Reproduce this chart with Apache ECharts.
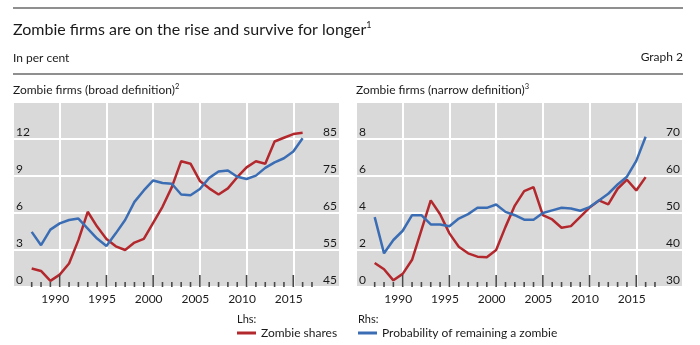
<!DOCTYPE html>
<html>
<head>
<meta charset="utf-8">
<script src="https://cdn.jsdelivr.net/npm/echarts@6/dist/echarts.min.js"></script>
<style>
html,body{margin:0;padding:0;background:#fff;}
#c{width:700px;height:345px;}
</style>
</head>
<body>
<div id="c"></div>
<script>
// ---- data ----
const years = [1987,1988,1989,1990,1991,1992,1993,1994,1995,1996,1997,1998,1999,2000,2001,2002,2003,2004,2005,2006,2007,2008,2009,2010,2011,2012,2013,2014,2015,2016];
// broad definition
const broadShares = [1.5,1.3,0.5,1.0,1.9,3.8,6.1,4.9,3.9,3.3,3.0,3.6,3.9,5.2,6.5,8.1,10.2,10.0,8.6,8.0,7.5,8.0,8.9,9.7,10.2,10.0,11.8,12.1,12.4,12.5];
const broadProb = [59.9,56.3,60.5,62.2,63.1,63.5,60.8,58.1,56.1,59.5,63.1,68.0,71.1,73.8,73.1,72.9,70.0,69.8,71.5,74.5,76.2,76.5,74.8,74.2,75.1,77.2,78.7,79.8,81.6,85.2];
// narrow definition
const narrowShares = [1.3,0.96,0.36,0.71,1.47,3.07,4.68,3.93,2.9,2.18,1.82,1.64,1.61,2.0,3.25,4.4,5.18,5.4,3.88,3.65,3.2,3.29,3.79,4.29,4.68,4.47,5.31,5.8,5.22,5.94];
const narrowProb = [48.9,39.1,42.7,45.2,49.4,49.4,46.9,46.9,46.4,48.5,49.7,51.4,51.4,52.3,50.3,49.4,48.2,48.2,50.0,50.7,51.4,51.2,50.6,51.6,53.4,55.2,57.7,59.8,64.1,70.6];
// axis tick positions (years with a tick mark)
const tickYears = [1987,1988,1989,1990,1991,1992,1993,1994,1995,1996,1997,1998,1999,2000,2001,2002,2003,2004,2005,2006,2007,2008,2009,2010,2011,2012,2013,2014,2015,2016,2017];
// axis ranges
const xRange = [1985, 2020];
const broadLhs = {min:0, max:15, interval:3};
const broadRhs = {min:45, max:95, interval:10};
const narrowLhs = {min:0, max:10, interval:2};
const narrowRhs = {min:30, max:80, interval:10};

const RED = '#b3282d', BLUE = '#3b6db4', BG = '#d9d9d9', TXT = '#1a1a1a';
const FONT = 'Lato';

const chart = echarts.init(document.getElementById('c'), null, {renderer:'canvas'});
const pair = (arr) => years.map((y,i)=>[y, arr[i]]);

const grids = [
  {left:13, right:360, top:102, height:185, show:true, backgroundColor:BG, borderWidth:0},
  {left:356, right:17, top:102, height:185, show:true, backgroundColor:BG, borderWidth:0}
];

function xAxis(gi){
  return {
    type:'value', gridIndex:gi, min:xRange[0], max:xRange[1], interval:5,
    axisLine:{show:false}, axisTick:{show:false},
    splitLine:{show:true, lineStyle:{color:'#fff', width:2}},
    axisLabel:{
      color:TXT, fontFamily:FONT, fontSize:12, margin:6, padding:[0,9,0,0],
      showMinLabel:false, showMaxLabel:false,
      formatter: (v)=>String(v)
    }
  };
}
function yAxis(gi, r, pos, split){
  return {
    type:'value', gridIndex:gi, position:pos, min:r.min, max:r.max, interval:r.interval,
    axisLine:{show:false}, axisTick:{show:false},
    splitLine:{show:split, lineStyle:{color:'#fff', width:2}},
    axisLabel:{
      inside:true, color:TXT, fontFamily:FONT, fontSize:12, margin:3,
      verticalAlign:'bottom', showMaxLabel:false, lineHeight:14
    }
  };
}

function tickSeries(xi, yi){
  return {
    type:'custom', xAxisIndex:xi, yAxisIndex:yi, silent:true, z:5,
    data: tickYears.map(y=>[y, 0]),
    renderItem: function(params, api){
      const yr = api.value(0);
      const p = api.coord([yr, api.value(1)]);
      const len = (yr % 5 === 0) ? 12 : 5;
      return {type:'line', shape:{x1:p[0], y1:p[1], x2:p[0], y2:p[1]-len},
              style:{stroke:'#4a4a4a', lineWidth:1.6}};
    }
  };
}

function lineSeries(name, data, xi, yi, color){
  return {
    name:name, type:'line', xAxisIndex:xi, yAxisIndex:yi, data:pair(data),
    showSymbol:false, symbol:'none', z:3,
    lineStyle:{color:color, width:2.5}, itemStyle:{color:color}
  };
}

const option = {
  animation:false,
  textStyle:{fontFamily:FONT},
  grid: grids,
  xAxis:[xAxis(0), xAxis(1)],
  yAxis:[
    yAxis(0, broadLhs, 'left', true),
    yAxis(0, broadRhs, 'right', false),
    yAxis(1, narrowLhs, 'left', true),
    yAxis(1, narrowRhs, 'right', false)
  ],
  title:[
    {text:'Zombie firms are on the rise and survive for longer{s|1}', left:13, top:21, padding:0,
     textStyle:{fontSize:16, fontWeight:'normal', color:TXT, fontFamily:FONT, rich:{s:{fontSize:9, color:TXT, fontFamily:FONT, padding:[0,0,8,0]}}}},
    {text:'In per cent', left:13, top:52, padding:0, textStyle:{fontSize:12, fontWeight:'normal', color:TXT, fontFamily:FONT}},
    {text:'Graph 2', right:17, top:51, padding:0, textStyle:{fontSize:12, fontWeight:'normal', color:TXT, fontFamily:FONT}},
    {text:'Zombie firms (broad definition){s|2}', left:13, top:83, padding:0,
     textStyle:{fontSize:12, fontWeight:'normal', color:TXT, fontFamily:FONT, rich:{s:{fontSize:7.5, color:TXT, fontFamily:FONT, padding:[0,0,7,0]}}}},
    {text:'Zombie firms (narrow definition){s|3}', left:356, top:83, padding:0,
     textStyle:{fontSize:12, fontWeight:'normal', color:TXT, fontFamily:FONT, rich:{s:{fontSize:7.5, color:TXT, fontFamily:FONT, padding:[0,0,7,0]}}}}
  ],
  legend:[
    {data:['Zombie shares'], left:237, top:327, padding:0, icon:'rect', itemWidth:19, itemHeight:3, itemGap:0,
     textStyle:{fontSize:12, color:TXT, fontFamily:FONT}, selectedMode:false},
    {data:['Probability of remaining a zombie'], left:358, top:327, padding:0, icon:'rect', itemWidth:19, itemHeight:3, itemGap:0,
     textStyle:{fontSize:12, color:TXT, fontFamily:FONT}, selectedMode:false}
  ],
  graphic:[
    {type:'line', shape:{x1:13, y1:8, x2:683, y2:8}, style:{stroke:'#8f8f8f', lineWidth:2}},
    {type:'line', shape:{x1:13, y1:74, x2:683, y2:74}, style:{stroke:'#8f8f8f', lineWidth:2}},
    {type:'text', left:237, top:314, style:{text:'Lhs:', fontSize:11, fill:TXT, fontFamily:FONT}},
    {type:'text', left:358, top:314, style:{text:'Rhs:', fontSize:11, fill:TXT, fontFamily:FONT}}
  ],
  series:[
    tickSeries(0,0),
    tickSeries(1,2),
    lineSeries('Zombie shares', broadShares, 0, 0, RED),
    lineSeries('Probability of remaining a zombie', broadProb, 0, 1, BLUE),
    lineSeries('Zombie shares', narrowShares, 1, 2, RED),
    lineSeries('Probability of remaining a zombie', narrowProb, 1, 3, BLUE)
  ]
};
chart.setOption(option);
</script>
</body>
</html>
